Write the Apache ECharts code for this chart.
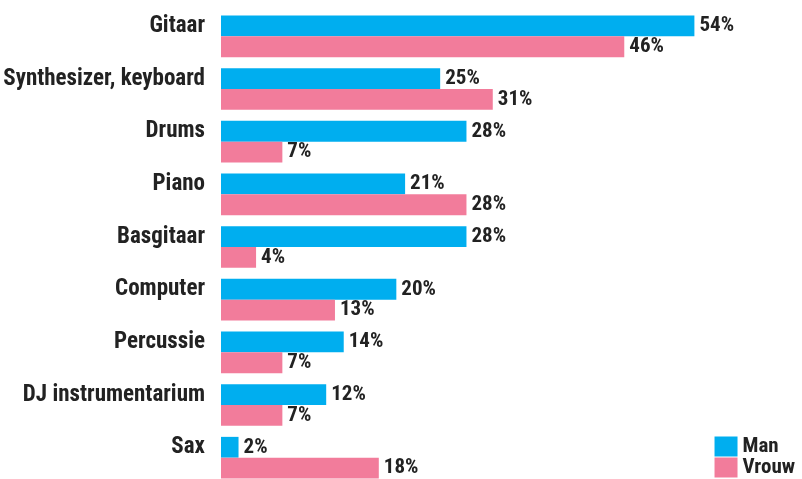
<!DOCTYPE html>
<html><head><meta charset="utf-8">
<script src="https://cdn.jsdelivr.net/npm/echarts@6/dist/echarts.min.js"></script>
<style>html,body{margin:0;padding:0;background:#fff}#c{width:802px;height:479px}</style>
</head><body><div id="c"></div>
<script>
const categories = ["Gitaar","Synthesizer, keyboard","Drums","Piano","Basgitaar","Computer","Percussie","DJ instrumentarium","Sax"];
const man = [54,25,28,21,28,20,14,12,2];
const vrouw = [46,31,7,28,4,13,7,7,18];
const FONT = '"Roboto Condensed","Liberation Sans Narrow",sans-serif';
const chart = echarts.init(document.getElementById('c'), null, {renderer:'canvas'});
const lbl = {show:true, position:'right', distance:5, formatter:'{c}%', color:'#222', fontFamily:FONT, fontWeight:'bold', fontSize:21};
chart.setOption({
  animation:false,
  grid:{left:221, top:10, width:526, height:474, containLabel:false, outerBoundsMode:'none'},
  xAxis:{type:'value', min:0, max:60, show:false},
  yAxis:{type:'category', data:categories, inverse:true,
    axisLine:{show:false}, axisTick:{show:false},
    axisLabel:{color:'#222', fontFamily:FONT, fontWeight:'bold', fontSize:23, margin:16,
      verticalAlign:'bottom', lineHeight:20}},
  legend:{orient:'vertical', right:7, bottom:1, padding:0, itemGap:0, itemWidth:23, itemHeight:20,
    icon:'rect', textStyle:{color:'#222', fontFamily:FONT, fontWeight:'bold', fontSize:21, lineHeight:20},
    data:['Man','Vrouw']},
  series:[
    {name:'Man', type:'bar', data:man, barGap:'0%', barCategoryGap:'21%', itemStyle:{color:'#00AEEF'}, label:lbl},
    {name:'Vrouw', type:'bar', data:vrouw, itemStyle:{color:'#F27C9B'}, label:lbl}
  ]
});
</script></body></html>
